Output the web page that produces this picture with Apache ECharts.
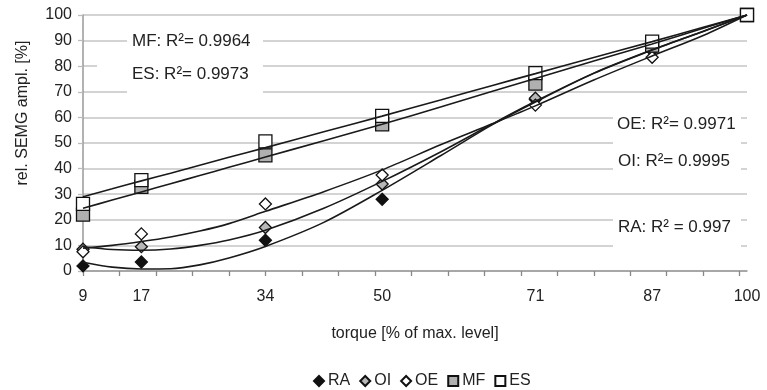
<!DOCTYPE html>
<html>
<head>
<meta charset="utf-8">
<script src="https://cdn.jsdelivr.net/npm/echarts@6/dist/echarts.min.js"></script>
<style>
html,body{margin:0;padding:0;background:#fff;}
#c{width:767px;height:390px;}
</style>
</head>
<body>
<div id="c"></div>
<script>
// ---- data ----
const xVals = [9, 17, 34, 50, 71, 87, 100];
const xTickLabels = [9, 17, 34, 50, 71, 87, 100];
const xMinorTicks = [9, 14, 19, 24, 29, 34, 39, 44, 49, 54, 59, 64, 69, 74, 79, 84, 89, 94, 99];
const seriesNames = ['RA', 'OI', 'OE', 'MF', 'ES'];
const raVals = [2, 3.5, 12, 28, 67, 86, 100];
const oiVals = [8.5, 9.5, 17, 34, 67.5, 86.5, 100];
const oeVals = [7.5, 14.5, 26.2, 37.5, 64.8, 83.5, 100];
const mfVals = [22, 32.9, 45.2, 57.3, 73.2, 88, 100];
const esVals = [26.2, 35.5, 50.6, 60.6, 77.3, 89.6, 100];

// trend lines
const trendX = [9, 13, 17, 21, 25, 29, 34, 42, 50, 58, 65, 71, 79, 87, 94, 100];
const raTrend = [3.4, 1.5, 0.8, 0.9, 2.4, 5.1, 9.6, 19, 31.5, 45, 57, 66, 77.2, 86.3, 93.7, 100];
const oiTrend = [9.5, 8.4, 8.1, 8.6, 10, 12.1, 15.9, 24.5, 35, 46.5, 57.3, 66.3, 77.3, 86.4, 93.6, 100];
const oeTrend = [8.9, 10, 11.5, 13.3, 15.6, 18.5, 23.3, 31, 39.5, 49.3, 57.4, 64.5, 74.6, 84, 92, 100];
const mfTrend = [24.5, 27.7, 30.9, 34.1, 37.3, 40.5, 44.5, 50.9, 57.3, 64.1, 70.1, 75.2, 82, 88.7, 94.8, 100];
const esTrend = [29, 32.1, 35.2, 38.2, 41.3, 44.4, 48.2, 54.4, 60.5, 66.8, 72.4, 77.1, 83.4, 89.6, 95.2, 100];

const annotations = [
  {text: 'MF: R²= 0.9964', x: 132, y: 41},
  {text: 'ES: R²= 0.9973', x: 132, y: 74},
  {text: 'OE: R²= 0.9971', x: 617, y: 124},
  {text: 'OI: R²= 0.9995', x: 618, y: 161},
  {text: 'RA: R² = 0.997', x: 618, y: 227}
];

const FONT = '"Liberation Sans", Arial, sans-serif';
const TXT = '#222';

function pairs(xs, ys) { return xs.map((x, i) => [x, ys[i]]); }

const markerStyles = {
  RA: {symbol: 'diamond', size: 12, color: '#111', border: '#111'},
  OI: {symbol: 'diamond', size: 12, color: '#b8b8b8', border: '#111'},
  OE: {symbol: 'diamond', size: 12, color: '#ffffff', border: '#111'},
  MF: {symbol: 'rect', size: 13, color: '#b0b0b0', border: '#111'},
  ES: {symbol: 'rect', size: 13, color: '#ffffff', border: '#111'}
};
const markerData = {RA: raVals, OI: oiVals, OE: oeVals, MF: mfVals, ES: esVals};
const trendData = {RA: raTrend, OI: oiTrend, OE: oeTrend, MF: mfTrend, ES: esTrend};

const series = [];
seriesNames.forEach(n => {
  const s = markerStyles[n];
  series.push({
    name: n, type: 'scatter', symbol: s.symbol, symbolSize: s.size, z: 2,
    itemStyle: {color: s.color, borderColor: s.border, borderWidth: 1.3, opacity: 1},
    data: pairs(xVals, markerData[n])
  });
});
seriesNames.forEach(n => {
  series.push({
    name: n + ' trend', type: 'line', showSymbol: false, symbol: 'none', smooth: 0.3, z: 3,
    silent: true,
    lineStyle: {color: '#1a1a1a', width: 1.6},
    data: pairs(trendX, trendData[n])
  });
});

const graphics = [
  {type: 'rect', shape: {x: 127, y: 33, width: 136, height: 64}, style: {fill: '#fff'}, z: 50},
  {type: 'rect', shape: {x: 97, y: 60, width: 32, height: 12}, style: {fill: '#fff'}, z: 50},
  {type: 'rect', shape: {x: 613, y: 110, width: 128, height: 66}, style: {fill: '#fff'}, z: 50},
  {type: 'rect', shape: {x: 613, y: 212, width: 128, height: 40}, style: {fill: '#fff'}, z: 50},
  {type: 'text', x: 23, y: 113, rotation: Math.PI / 2, z: 60,
   style: {text: 'rel. SEMG ampl. [%]', fill: TXT, font: '16px ' + FONT, textAlign: 'center', textVerticalAlign: 'middle'}}
];
annotations.forEach(a => graphics.push({
  type: 'text', x: a.x, y: a.y, z: 60,
  style: {text: a.text, fill: TXT, font: '17px ' + FONT, textAlign: 'left', textVerticalAlign: 'middle'}
}));

const chart = echarts.init(document.getElementById('c'));
chart.setOption({
  animation: false,
  backgroundColor: '#fff',
  grid: {left: 83, right: 20, top: 15, bottom: 119, containLabel: false},
  xAxis: {
    type: 'value', min: 9, max: 100,
    name: 'torque [% of max. level]', nameLocation: 'middle', nameGap: 55,
    nameTextStyle: {color: TXT, fontFamily: FONT, fontSize: 16},
    axisLine: {show: true, lineStyle: {color: '#999', width: 1.5}},
    axisTick: {show: true, inside: false, length: 5, customValues: xMinorTicks, lineStyle: {color: '#888', width: 1.3}},
    axisLabel: {customValues: xTickLabels, color: TXT, fontFamily: FONT, fontSize: 16, margin: 18},
    splitLine: {show: false}
  },
  yAxis: {
    type: 'value', min: 0, max: 100, interval: 10,
    axisLine: {show: true, lineStyle: {color: '#999', width: 1.5}},
    axisTick: {show: true, inside: false, length: 5, lineStyle: {color: '#bbb', width: 1.3}},
    axisLabel: {color: TXT, fontFamily: FONT, fontSize: 16, margin: 11},
    splitLine: {show: true, lineStyle: {color: '#c4c4c4', width: 1.5}}
  },
  legend: {
    data: seriesNames, left: 308, top: 368,
    itemWidth: 10, itemHeight: 10, itemGap: 9,
    textStyle: {color: TXT, fontFamily: FONT, fontSize: 16, padding: [0, 0, 0, -1]},
    selectedMode: false
  },
  graphic: graphics,
  series: series
});
</script>
</body>
</html>
